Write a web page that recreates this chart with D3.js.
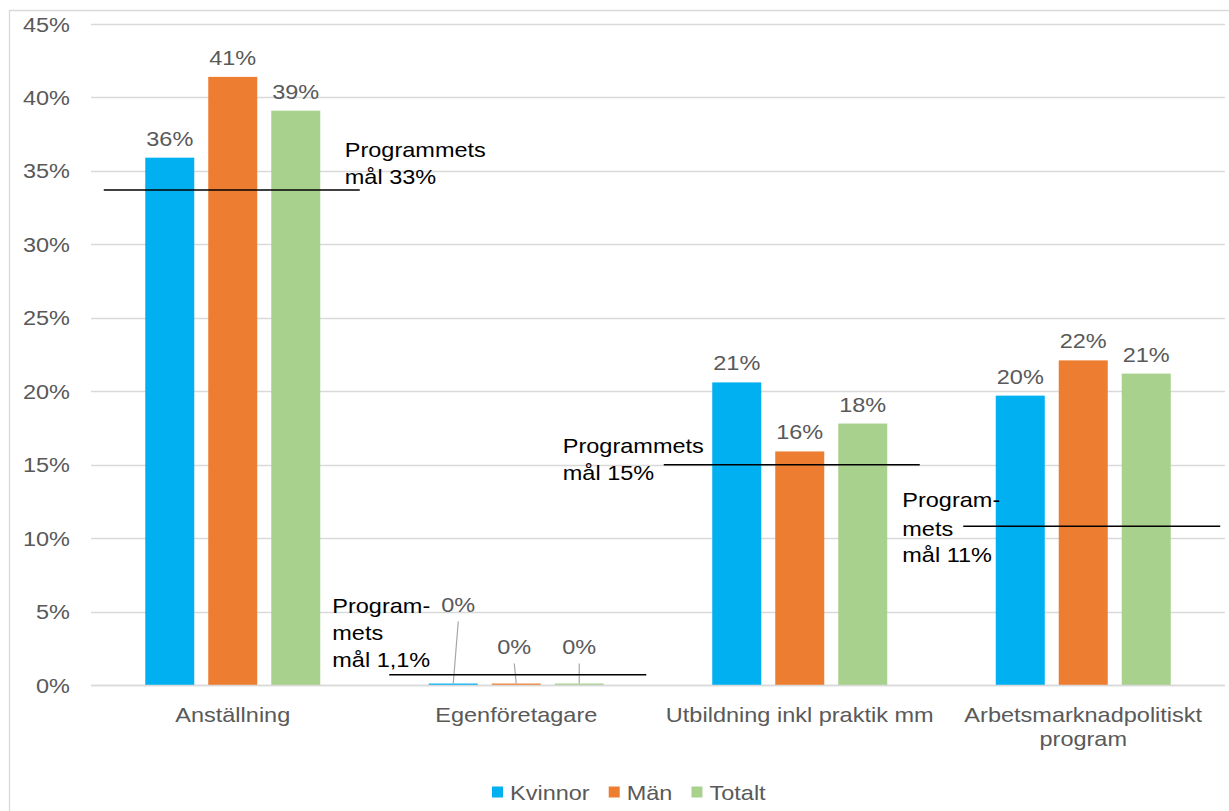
<!DOCTYPE html>
<html lang="sv">
<head>
    <meta charset="UTF-8">
    <title>Programmets mål</title>
    <script src="https://d3js.org/d3.v7.min.js"></script>
    <style>
        body {
            margin: 0;
            background-color: #ffffff;
        }

        svg {
            display: block;
            font-family: "Liberation Sans", Arial, sans-serif;
        }

        .grid line {
            stroke: #d9d9d9;
            stroke-width: 1.3;
        }

        .tick-label, .cat-label, .value-label, .legend-label {
            fill: #595959;
            font-size: 21px;
        }

        .goal-label {
            fill: #000000;
            font-size: 21px;
        }
    </style>
</head>
<body>

<svg width="1229" height="811"></svg>

<script>
    // data
    const categories = ["Anställning", "Egenföretagare", "Utbildning inkl praktik mm", "Arbetsmarknadpolitiskt\nprogram"];
    const series = ["Kvinnor", "Män", "Totalt"];
    const kvinnor = [35.9, 0.1, 20.6, 19.7];
    const man = [41.4, 0.1, 15.9, 22.1];
    const totalt = [39.1, 0.1, 17.8, 21.2];
    const yTicks = [0, 5, 10, 15, 20, 25, 30, 35, 40, 45];

    // goal lines (as drawn) and their text
    const goalValues = [33.7, 0.7, 15, 10.8];
    const goalTexts = [
        ["Programmets", "mål 33%"],
        ["Program-", "mets", "mål 1,1%"],
        ["Programmets", "mål 15%"],
        ["Program-", "mets", "mål 11%"]
    ];

    const colors = {"Kvinnor": "#00b0f0", "Män": "#ed7d31", "Totalt": "#a9d18e"};

    // layout
    const svgWidth = 1229;
    const svgHeight = 811;
    const plot = {left: 91, right: 1225, top: 24, bottom: 685};
    const textStretch = 1.12;   // the reference text is a bit wide
    const groupHalf = 87.5;

    // goal line / label placement relative to the category centre and line
    const goalLayout = [
        {x1: -129, x2: 127, tx: 112, ty: [-33, -6]},
        {x1: -127, x2: 130, tx: -184, ty: [-62, -35, -8]},
        {x1: -136, x2: 120, tx: -237, ty: [-12, 15]},
        {x1: -120, x2: 137, tx: -181, ty: [-19, 10, 36]}
    ];

    // labels lifted with leader lines (Egenföretagare)
    const liftedLabels = {"Egenföretagare": [{dx: 5, lift: 60}, {dx: -2, lift: 18}, {dx: 0, lift: 18}]};

    const values = {"Kvinnor": kvinnor, "Män": man, "Totalt": totalt};
    const rows = categories.map((c, i) => ({
        category: c,
        bars: series.map(s => ({series: s, value: values[s][i], category: c}))
    }));

    const svg = d3.select("svg")
        .attr("width", svgWidth)
        .attr("height", svgHeight);

    // chart border
    svg.append("path")
        .attr("d", `M${svgWidth},10.5 H9.5 V${svgHeight}`)
        .attr("fill", "none")
        .attr("stroke", "#d9d9d9")
        .attr("stroke-width", 1.3);

    const xScale = d3.scaleBand()
        .domain(categories)
        .range([plot.left, plot.right])
        .padding(0);

    const xSub = d3.scaleBand()
        .domain(series)
        .range([-groupHalf, groupHalf])
        .paddingInner(0.222)
        .paddingOuter(0);

    const yScale = d3.scaleLinear()
        .domain([0, 45])
        .range([plot.bottom, plot.top]);

    const pct = d => d3.format(".0f")(d) + "%";
    const cx = c => xScale(c) + xScale.bandwidth() / 2;

    // text helper: place and widen
    function placeText(sel, x, y) {
        return sel.attr("transform", (d, i) =>
            `translate(${typeof x === "function" ? x(d, i) : x},${typeof y === "function" ? y(d, i) : y}) scale(${textStretch},1)`);
    }

    // gridlines
    svg.append("g")
        .attr("class", "grid")
        .selectAll("line")
        .data(yTicks)
        .join("line")
        .attr("x1", plot.left)
        .attr("x2", plot.right)
        .attr("y1", d => Math.round(yScale(d)) + 0.5)
        .attr("y2", d => Math.round(yScale(d)) + 0.5);

    // y tick labels
    svg.append("g")
        .selectAll("text")
        .data(yTicks)
        .join("text")
        .attr("class", "tick-label")
        .attr("text-anchor", "end")
        .call(placeText, 70, d => yScale(d) + 7.5)
        .text(d => d + "%");

    // bars
    const groups = svg.append("g")
        .selectAll("g")
        .data(rows)
        .join("g")
        .attr("transform", d => `translate(${cx(d.category)},0)`);

    groups.selectAll("rect")
        .data(d => d.bars)
        .join("rect")
        .attr("x", d => xSub(d.series))
        .attr("y", d => yScale(d.value))
        .attr("width", xSub.bandwidth())
        .attr("height", d => yScale(0) - yScale(d.value))
        .attr("fill", d => colors[d.series]);

    // value labels
    groups.each(function (row) {
        const g = d3.select(this);
        const lifted = liftedLabels[row.category];
        row.bars.forEach((b, i) => {
            const bx = xSub(b.series) + xSub.bandwidth() / 2;
            const top = yScale(b.value);
            let lx = bx, ly = top - 12;
            if (lifted) {
                lx = bx + lifted[i].dx;
                ly = top - 12 - lifted[i].lift;
                g.append("line")
                    .attr("x1", lx)
                    .attr("y1", ly + 10)
                    .attr("x2", bx)
                    .attr("y2", top)
                    .attr("stroke", "#a6a6a6")
                    .attr("stroke-width", 1.2);
            }
            g.append("text")
                .attr("class", "value-label")
                .attr("text-anchor", "middle")
                .call(placeText, lx, ly)
                .text(pct(b.value));
        });
    });

    // x axis line
    svg.append("line")
        .attr("x1", plot.left)
        .attr("x2", plot.right)
        .attr("y1", Math.round(yScale(0)) + 0.5)
        .attr("y2", Math.round(yScale(0)) + 0.5)
        .attr("stroke", "#d9d9d9")
        .attr("stroke-width", 1.3);

    // category labels
    const catLabels = svg.append("g")
        .selectAll("text")
        .data(categories)
        .join("text")
        .attr("class", "cat-label")
        .attr("text-anchor", "middle")
        .call(placeText, d => cx(d), 722);

    catLabels.selectAll("tspan")
        .data(d => d.split("\n"))
        .join("tspan")
        .attr("x", 0)
        .attr("dy", (d, i) => i === 0 ? 0 : 24)
        .text(d => d);

    // goal lines and text
    goalValues.forEach((v, i) => {
        const c = cx(categories[i]);
        const y = yScale(v);
        const lay = goalLayout[i];
        svg.append("line")
            .attr("x1", c + lay.x1)
            .attr("x2", c + lay.x2)
            .attr("y1", y)
            .attr("y2", y)
            .attr("stroke", "#000000")
            .attr("stroke-width", 1.5);

        svg.append("g")
            .selectAll("text")
            .data(goalTexts[i])
            .join("text")
            .attr("class", "goal-label")
            .call(placeText, c + lay.tx, (d, j) => y + lay.ty[j])
            .text(d => d);
    });

    // legend
    const legend = svg.append("g").attr("transform", "translate(492,792)");
    let lxPos = 0;
    series.forEach(s => {
        legend.append("rect")
            .attr("x", lxPos)
            .attr("y", -5.5)
            .attr("width", 11)
            .attr("height", 11)
            .attr("fill", colors[s]);
        const t = legend.append("text")
            .attr("class", "legend-label")
            .call(placeText, lxPos + 18, 7.5)
            .text(s);
        lxPos += 18 + t.node().getComputedTextLength() * textStretch + 19;
    });
</script>

</body>
</html>
